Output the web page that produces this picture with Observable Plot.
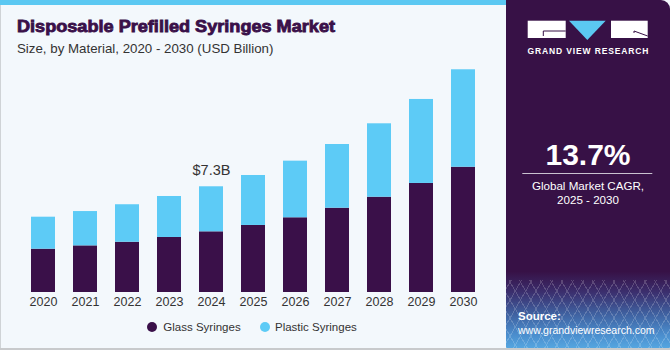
<!DOCTYPE html>
<html><head><meta charset="utf-8">
<script src="https://cdn.jsdelivr.net/npm/d3@7"></script>
<script src="https://cdn.jsdelivr.net/npm/@observablehq/plot@0.6"></script>
<style>
body{margin:0;background:#fff;}
#wrap{position:relative;width:670px;height:350px;background:#f3f8fc;overflow:hidden;font-family:"Liberation Sans",Arial,sans-serif;}
#topbar{position:absolute;left:0;top:0;width:506px;height:5px;background:#5bc8f2;}
#lborder{position:absolute;left:0;top:5px;width:1px;height:345px;background:#cfd3d6;}
#bborder{position:absolute;left:0;bottom:0;width:670px;height:2px;background:#c8cacc;}
#title{position:absolute;left:0;top:0;}
#chart{position:absolute;left:0;top:55px;}
#legend{position:absolute;left:0;top:318px;width:506px;height:20px;font-size:11.5px;color:#333;}
.sw{position:absolute;width:10px;height:10px;border-radius:50%;top:4px;}
.lt{position:absolute;top:2.5px;white-space:nowrap;}
#panel{position:absolute;left:506px;top:0;width:164px;height:348px;border-top-right-radius:9px;
background:linear-gradient(to bottom,#371146 0%,#371146 78%,#3b2f6e 84%,#3f5f9e 90%,#4a8ccc 96%,#55a6e0 100%);}
#grid{position:absolute;left:0;top:280px;width:164px;height:68px;opacity:0.18;
background-image:repeating-linear-gradient(60deg,#fff 0 1px,transparent 1px 9px),repeating-linear-gradient(-60deg,#fff 0 1px,transparent 1px 9px);}
#panelsvg{position:absolute;left:0;top:0;}
</style></head>
<body>
<div id="wrap">
  <div id="topbar"></div>
  <div id="lborder"></div>
  <svg id="title" width="506" height="60">
    <text x="17" y="31.5" font-family="Liberation Sans, Arial" font-weight="bold" font-size="16.8" fill="#3a1049" stroke="#3a1049" stroke-width="0.85" textLength="318" lengthAdjust="spacingAndGlyphs">Disposable Prefilled Syringes Market</text>
    <text x="17" y="52.5" font-family="Liberation Sans, Arial" font-size="13.3" fill="#333">Size, by Material, 2020 - 2030 (USD Billion)</text>
  </svg>
  <div id="chart"></div>
  <div id="legend"></div>
  <div id="panel">
    <div id="grid"></div>
    <svg id="panelsvg" width="164" height="348">
      <rect x="21.7" y="20.7" width="38" height="17.3" fill="#fff"/>
      <path d="M37.3 31 H59.7 M37.3 31 V36" stroke="#371146" stroke-width="1" fill="none"/>
      <path d="M63 20.7 H99.7 L81.3 40 Z" fill="#5bc8f2"/>
      <rect x="105" y="20.7" width="36.7" height="17.3" fill="#fff"/>
      <path d="M128 31 L141.7 36 M128 31 V33" stroke="#371146" stroke-width="1" fill="none"/>
      <text x="21.5" y="53.5" font-family="Liberation Sans, Arial" font-weight="bold" font-size="8.5" fill="#fff" textLength="121" lengthAdjust="spacing">GRAND VIEW RESEARCH</text>
      <text x="82" y="165" text-anchor="middle" font-family="Liberation Sans, Arial" font-weight="bold" font-size="30" fill="#fff">13.7%</text>
      <line x1="16.3" x2="146.3" y1="173.5" y2="173.5" stroke="#c9c2d0" stroke-width="1"/>
      <text x="82" y="189.5" text-anchor="middle" font-family="Liberation Sans, Arial" font-size="11.6" fill="#fff">Global Market CAGR,</text>
      <text x="82" y="204" text-anchor="middle" font-family="Liberation Sans, Arial" font-size="11.6" fill="#fff">2025 - 2030</text>
      <text x="12" y="320" font-family="Liberation Sans, Arial" font-weight="bold" font-size="11.5" fill="#fff">Source:</text>
      <text x="12" y="334" font-family="Liberation Sans, Arial" font-size="10.5" fill="#fff">www.grandviewresearch.com</text>
    </svg>
  </div>
  <div id="bborder"></div>
</div>
<script>
const years = ["2020","2021","2022","2023","2024","2025","2026","2027","2028","2029","2030"];
const glass = [2.99,3.22,3.47,3.80,4.19,4.63,5.16,5.82,6.58,7.53,8.65];
const plastic = [2.21,2.37,2.59,2.83,3.11,3.45,3.91,4.40,5.07,5.80,6.73];
const series = ["Glass Syringes","Plastic Syringes"];
const colors = ["#3a1049","#5dcbf6"];
const labelYear = "2024";

const data = years.flatMap((y,i)=>[
  {year:y, material:series[0], value:glass[i]},
  {year:y, material:series[1], value:plastic[i]}
]);
const totals = years.map((y,i)=>({year:y, total:glass[i]+plastic[i]}));

const chart = Plot.plot({
  width:506, height:260,
  marginLeft:12, marginRight:12, marginTop:5.3, marginBottom:23,
  style:{background:"transparent", fontSize:"12.5px", fontFamily:"Liberation Sans, Arial, sans-serif", color:"#333"},
  x:{domain:years, padding:0.44, label:null, tickSize:0, tickPadding:5},
  y:{domain:[0,16], axis:null},
  color:{domain:series, range:colors},
  marks:[
    Plot.barY(data,{x:"year", y:"value", fill:"material", order:series}),
    Plot.text(totals.filter(d=>d.year===labelYear),{x:"year", y:"total", text:d=>`$${d.total.toFixed(1)}B`, lineAnchor:"bottom", dy:-12, fontSize:14.5, fill:"#333"})
  ]
});
document.getElementById("chart").appendChild(chart);

const leg = document.getElementById("legend");
const pos = [{sw:147.3, tx:163.3},{sw:260, tx:275}];
series.forEach((s,i)=>{
  const sw=document.createElement("div"); sw.className="sw"; sw.style.left=pos[i].sw+"px"; sw.style.background=colors[i]; leg.appendChild(sw);
  const t=document.createElement("div"); t.className="lt"; t.style.left=pos[i].tx+"px"; t.textContent=s; leg.appendChild(t);
});
</script>
</body></html>
